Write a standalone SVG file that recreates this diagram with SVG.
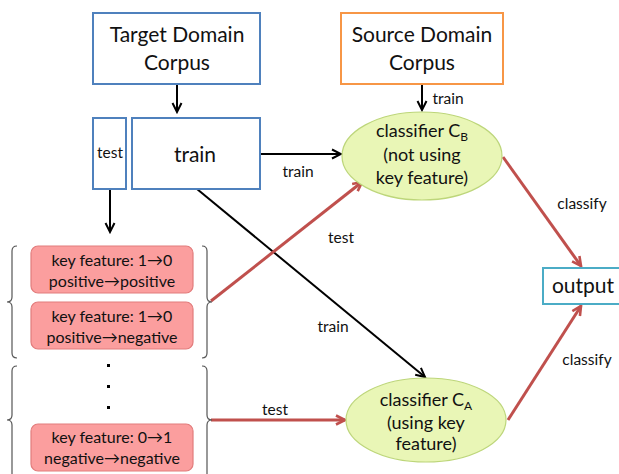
<svg xmlns="http://www.w3.org/2000/svg" width="619" height="474" viewBox="0 0 619 474">
  <defs>
    <style>
      text { font-family: Lato, "Liberation Sans", sans-serif; fill: #111; text-anchor: middle; }
      .box { fill: #fff; stroke-width: 2; }
      .blue { stroke: #4f81bd; }
      .orange { stroke: #f79646; }
      .teal { stroke: #4bacc6; }
      .pink { fill: #fb9e9e; stroke: #e27c7c; stroke-width: 1.2; }
      .cls { fill: #e9f6b6; stroke: #bdd67a; stroke-width: 1.2; }
      .brace { fill: none; stroke: #555; stroke-width: 1.2; }
      .blk { fill: none; stroke: #000; stroke-width: 2; marker-end: url(#ahBlack); }
      .red { fill: none; stroke: #c0504d; stroke-width: 3; marker-end: url(#ahRed); }
      .big { font-size: 21px; }
      .mid { font-size: 18px; }
      .lbl { font-size: 15.5px; }
      .kf { font-size: 16px; }
    </style>
    <marker id="ahBlack" viewBox="0 0 12 12" refX="10.5" refY="6" markerWidth="12" markerHeight="12" markerUnits="userSpaceOnUse" orient="auto">
      <path d="M1.5,1.5 L10.5,6 L1.5,10.5" fill="none" stroke="#000" stroke-width="2"/>
    </marker>
    <marker id="ahRed" viewBox="0 0 12 12" refX="10.5" refY="6" markerWidth="12" markerHeight="12" markerUnits="userSpaceOnUse" orient="auto">
      <path d="M1.5,1.5 L10.5,6 L1.5,10.5" fill="none" stroke="#c0504d" stroke-width="2.6"/>
    </marker>
  </defs>

  <rect width="619" height="474" fill="#fff"/>

  <!-- connectors -->
  <g id="connectors">
    <line class="blk" x1="177" y1="84" x2="177" y2="112"/>
    <line class="blk" x1="422" y1="85" x2="422" y2="110"/>
    <line class="blk" x1="260" y1="154" x2="341" y2="154"/>
    <line class="blk" x1="197" y1="189" x2="425" y2="377"/>
    <line class="blk" x1="110" y1="189" x2="110" y2="232"/>
    <line class="red" x1="211" y1="301" x2="362" y2="182"/>
    <line class="red" x1="211" y1="420" x2="345" y2="420"/>
    <line class="red" x1="503" y1="157" x2="581" y2="266"/>
    <line class="red" x1="508" y1="420" x2="581" y2="306"/>
    <text class="lbl" x="448" y="104">train</text>
    <text class="lbl" x="298" y="177">train</text>
    <text class="lbl" x="341" y="243">test</text>
    <text class="lbl" x="333" y="332">train</text>
    <text class="lbl" x="275" y="415">test</text>
    <text class="lbl" x="582" y="209">classify</text>
    <text class="lbl" x="587" y="365">classify</text>
  </g>

  <g id="target-corpus">
    <rect class="box blue" x="93" y="13" width="167" height="71"/>
    <text class="big" x="177" y="42">Target Domain</text>
    <text class="big" x="177" y="70">Corpus</text>
  </g>

  <g id="source-corpus">
    <rect class="box orange" x="341" y="13" width="162" height="71"/>
    <text class="big" x="422" y="42">Source Domain</text>
    <text class="big" x="422" y="70">Corpus</text>
  </g>

  <g id="test-split">
    <rect class="box blue" x="93" y="118" width="33" height="71"/>
    <text class="lbl" x="110" y="158">test</text>
  </g>

  <g id="train-split">
    <rect class="box blue" x="132" y="118" width="128" height="71"/>
    <text class="big" x="195" y="162">train</text>
  </g>

  <g id="classifier-b">
    <ellipse class="cls" cx="422" cy="156" rx="80" ry="44"/>
    <text class="mid" x="422" y="137">classifier C<tspan font-size="12" dy="4">B</tspan></text>
    <text class="mid" x="422" y="161">(not using</text>
    <text class="mid" x="422" y="184">key feature)</text>
  </g>

  <g id="classifier-a">
    <ellipse class="cls" cx="426" cy="420" rx="80" ry="42"/>
    <text class="mid" x="426" y="406">classifier C<tspan font-size="12" dy="4">A</tspan></text>
    <text class="mid" x="426" y="429">(using key</text>
    <text class="mid" x="426" y="450">feature)</text>
  </g>

  <g id="output">
    <rect class="box teal" x="543" y="268" width="80" height="36"/>
    <text class="big" x="583" y="293">output</text>
  </g>

  <g id="case-pos-pos">
    <rect class="pink" x="31" y="246" width="162" height="47" rx="7"/>
    <text class="kf" x="112" y="266">key feature: 1→0</text>
    <text class="kf" x="112" y="287">positive→positive</text>
  </g>

  <g id="case-pos-neg">
    <rect class="pink" x="31" y="302" width="162" height="47" rx="7"/>
    <text class="kf" x="112" y="322">key feature: 1→0</text>
    <text class="kf" x="112" y="343">positive→negative</text>
  </g>

  <g id="case-neg-neg">
    <rect class="pink" x="31" y="424" width="162" height="47" rx="7"/>
    <text class="kf" x="112" y="443">key feature: 0→1</text>
    <text class="kf" x="112" y="464">negative→negative</text>
  </g>

  <g id="ellipsis" fill="#000">
    <rect x="107" y="364" width="3" height="3"/>
    <rect x="107" y="385" width="3" height="3"/>
    <rect x="107" y="406" width="3" height="3"/>
  </g>

  <g id="braces">
    <path class="brace" d="M17,246 Q12,246 12,251 L12,297 Q12,302 7,302 Q12,302 12,307 L12,353 Q12,358 17,358"/>
    <path class="brace" d="M17,366 Q12,366 12,371 L12,415 Q12,420 7,420 Q12,420 12,425 L12,476"/>
    <path class="brace" d="M202,246 Q207,246 207,251 L207,297 Q207,302 212,302 Q207,302 207,307 L207,353 Q207,358 202,358"/>
    <path class="brace" d="M202,366 Q207,366 207,371 L207,415 Q207,420 212,420 Q207,420 207,425 L207,476"/>
  </g>
</svg>
